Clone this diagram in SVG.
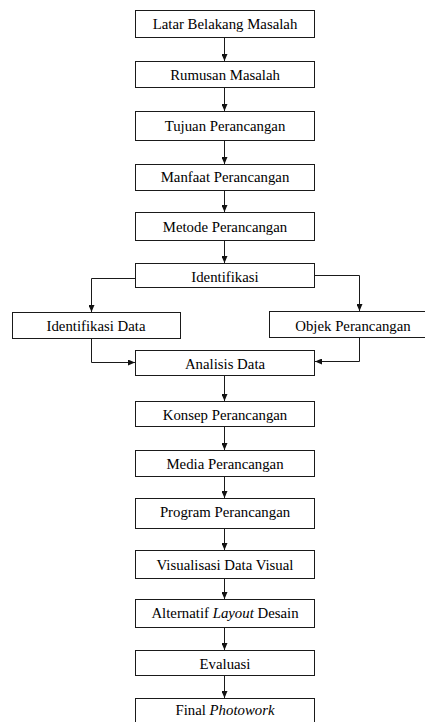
<svg xmlns="http://www.w3.org/2000/svg" width="425" height="722" viewBox="0 0 425 722">
<style>
rect.box{fill:#fff;stroke:#1a1a1a;stroke-width:1}
text{font-family:"Liberation Serif","Times New Roman",serif;font-size:14.8px;fill:#000;text-anchor:middle}
.it{font-style:italic}
.con{fill:none;stroke:#1a1a1a;stroke-width:1}
</style>
<defs>
<marker id="ah" viewBox="0 0 7 6" refX="7" refY="3" markerWidth="7" markerHeight="6" orient="auto" markerUnits="userSpaceOnUse">
<path d="M0,0 L7,3 L0,6 z" fill="#111"/>
</marker>
</defs>
<rect width="425" height="722" fill="#fff"/>
<g id="connectors">
<path class="con" marker-end="url(#ah)" d="M224.5,37.5 V61"/>
<path class="con" marker-end="url(#ah)" d="M224.5,87.5 V111"/>
<path class="con" marker-end="url(#ah)" d="M224.5,140.5 V164"/>
<path class="con" marker-end="url(#ah)" d="M224.5,190.5 V212"/>
<path class="con" marker-end="url(#ah)" d="M224.5,240.5 V263"/>
<path class="con" marker-end="url(#ah)" d="M135.5,278.5 H91.5 V312"/>
<path class="con" marker-end="url(#ah)" d="M314.5,275.5 H359.5 V311"/>
<path class="con" marker-end="url(#ah)" d="M91.5,338.5 V362.5 H135"/>
<path class="con" marker-end="url(#ah)" d="M359.5,337.5 V361.5 H315"/>
<path class="con" marker-end="url(#ah)" d="M224.5,375.5 V401"/>
<path class="con" marker-end="url(#ah)" d="M224.5,426.5 V450"/>
<path class="con" marker-end="url(#ah)" d="M224.5,476.5 V498"/>
<path class="con" marker-end="url(#ah)" d="M224.5,528.5 V550"/>
<path class="con" marker-end="url(#ah)" d="M224.5,578.5 V599"/>
<path class="con" marker-end="url(#ah)" d="M224.5,627.5 V650"/>
<path class="con" marker-end="url(#ah)" d="M224.5,675.5 V698"/>
</g>
<g id="latar"><rect class="box" x="135.5" y="10.5" width="179" height="27"/><text x="225" y="29.3">Latar Belakang Masalah</text></g>
<g id="rumusan"><rect class="box" x="135.5" y="61.5" width="179" height="26"/><text x="225" y="80.3">Rumusan Masalah</text></g>
<g id="tujuan"><rect class="box" x="135.5" y="111.5" width="179" height="29"/><text x="225" y="130.5">Tujuan Perancangan</text></g>
<g id="manfaat"><rect class="box" x="135.5" y="164.5" width="179" height="26"/><text x="225" y="182">Manfaat Perancangan</text></g>
<g id="metode"><rect class="box" x="135.5" y="212.5" width="179" height="28"/><text x="225" y="231.7">Metode Perancangan</text></g>
<g id="identifikasi"><rect class="box" x="135.5" y="263.5" width="179" height="24"/><text x="225" y="282.3">Identifikasi</text></g>
<g id="identifikasi-data"><rect class="box" x="12.5" y="312.5" width="168" height="26"/><text x="96" y="330.7">Identifikasi Data</text></g>
<g id="objek"><rect class="box" x="269.5" y="311.5" width="170" height="26"/><text x="353" y="330.7">Objek Perancangan</text></g>
<g id="analisis"><rect class="box" x="135.5" y="350.5" width="179" height="25"/><text x="225" y="369">Analisis Data</text></g>
<g id="konsep"><rect class="box" x="135.5" y="401.5" width="179" height="25"/><text x="225" y="420">Konsep Perancangan</text></g>
<g id="media"><rect class="box" x="135.5" y="450.5" width="179" height="26"/><text x="225" y="469">Media Perancangan</text></g>
<g id="program"><rect class="box" x="135.5" y="498.5" width="179" height="30"/><text x="225" y="517">Program Perancangan</text></g>
<g id="visualisasi"><rect class="box" x="135.5" y="550.5" width="179" height="28"/><text x="225" y="570">Visualisasi Data Visual</text></g>
<g id="alternatif"><rect class="box" x="135.5" y="599.5" width="179" height="28"/><text x="225" y="617.7">Alternatif <tspan class="it">Layout</tspan> Desain</text></g>
<g id="evaluasi"><rect class="box" x="135.5" y="650.5" width="179" height="25"/><text x="225" y="668.7">Evaluasi</text></g>
<g id="final"><rect class="box" x="135.5" y="698.5" width="179" height="40"/><text x="225" y="715">Final <tspan class="it">Photowork</tspan></text></g>
</svg>
